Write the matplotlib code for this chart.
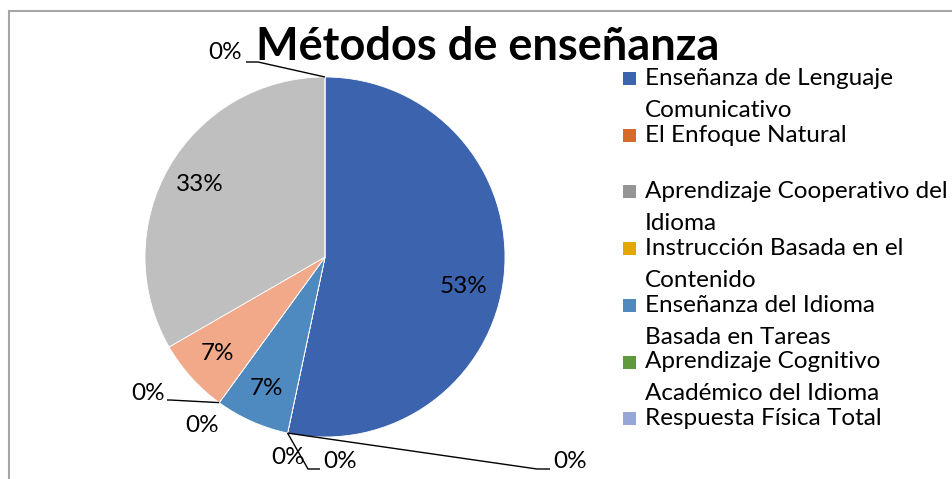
import matplotlib
matplotlib.use("Agg")
import matplotlib.pyplot as plt
from matplotlib.lines import Line2D
from matplotlib.patches import Rectangle
import numpy as np

plt.rcParams["font.family"] = ["Lato", "DejaVu Sans"]

TITLE = "Métodos de enseñanza"

# respuestas por método (15 en total)
categories = [
    "Enseñanza de Lenguaje\nComunicativo",
    "El Enfoque Natural",
    "Aprendizaje Cooperativo del\nIdioma",
    "Instrucción Basada en el\nContenido",
    "Enseñanza del Idioma\nBasada en Tareas",
    "Aprendizaje Cognitivo\nAcadémico del Idioma",
    "Respuesta Física Total",
    "Método 8",
    "Método 9",
    "Método 10",
]
counts = [8, 0, 0, 0, 1, 0, 0, 1, 5, 0]
colors = ["#3C64AE", "#D76A2B", "#959595", "#E2A700", "#4E89BF",
          "#5E9A3D", "#94A7D6", "#F1A98A", "#BFBFBF", "#FFD966"]
n_legend = 7

W, H = 952, 479
CX, CY, R = 325, 257, 180
FS = 17.5


def px(x, y):
    # pixel position -> pie data coords (centre 0,0, radius 1)
    return (x - CX) / R, (CY - y) / R


# hand placement of the 0% labels, as in the original (pixels)
# idx: (text x, text y, ha, leader points after the wedge anchor)
zero_layout = {
    1: (553, 461, "left", [(537, 469), (550, 469)]),
    2: (323, 461, "left", [(308, 469), (320, 469)]),
    3: (288, 457, "center", []),
    5: (202, 426, "center", []),
    6: (148, 393, "center", [(170, 400), (167, 400)]),
    9: (225, 52, "center", [(258, 62), (246, 62)]),
}
# the big slice's label sits a bit lower than the default (pixels)
pct_nudge = {0: (-5, 14)}

fig = plt.figure(figsize=(W / 100, H / 100), dpi=100)
ax = fig.add_axes([0, 0, 1, 1])

total = sum(counts)
wedges, _, autotexts = ax.pie(
    counts, colors=colors, startangle=90, counterclock=False,
    radius=1, center=(0, 0),
    autopct=lambda p: f"{p:.0f}%" if p > 0 else "",
    pctdistance=0.8,
    wedgeprops=dict(edgecolor="white", linewidth=0.6),
    textprops=dict(fontsize=FS, color="black"),
)
ax.set_xlim(-CX / R, (W - CX) / R)
ax.set_ylim(-(H - CY) / R, CY / R)
ax.set_aspect("auto")
ax.axis("off")

for i, (dx, dy) in pct_nudge.items():
    x, y = autotexts[i].get_position()
    autotexts[i].set_position((x + dx / R, y - dy / R))

for i, (tx, ty, ha, pts) in zero_layout.items():
    th = np.deg2rad((wedges[i].theta1 + wedges[i].theta2) / 2)
    anchor = (np.cos(th), np.sin(th))
    if pts:
        path = [anchor] + [px(*p) for p in pts]
        xs, ys = zip(*path)
        ax.plot(xs, ys, color="black", lw=1.0, solid_capstyle="butt")
    x, y = px(tx, ty)
    ax.text(x, y, f"{100 * counts[i] / total:.0f}%", ha=ha, va="center",
            fontsize=FS, color="black")

fig.text(488 / W, 1 - 47 / H, TITLE, ha="center", va="center",
         fontsize=32.5, fontweight="bold", color="black")

# legend (only the first seven entries fit in the chart area)
step, line_h = 56.7, 32
for k in range(n_legend):
    base = 85 + k * step
    fig.patches.append(Rectangle((623 / W, 1 - base / H), 13 / W, 13 / H,
                                 transform=fig.transFigure,
                                 facecolor=colors[k], edgecolor="none"))
    for j, line in enumerate(categories[k].split("\n")):
        fig.text(645 / W, 1 - (base + j * line_h) / H, line,
                 ha="left", va="baseline", fontsize=FS, color="black")

# chart area border (top and left edges visible)
fig.add_artist(Line2D([9 / W, 1], [1 - 11 / H, 1 - 11 / H],
                      transform=fig.transFigure, color="#A6A6A6", lw=1.5))
fig.add_artist(Line2D([9 / W, 9 / W], [0, 1 - 11 / H],
                      transform=fig.transFigure, color="#A6A6A6", lw=1.5))

fig.savefig("out.png", dpi=100)
